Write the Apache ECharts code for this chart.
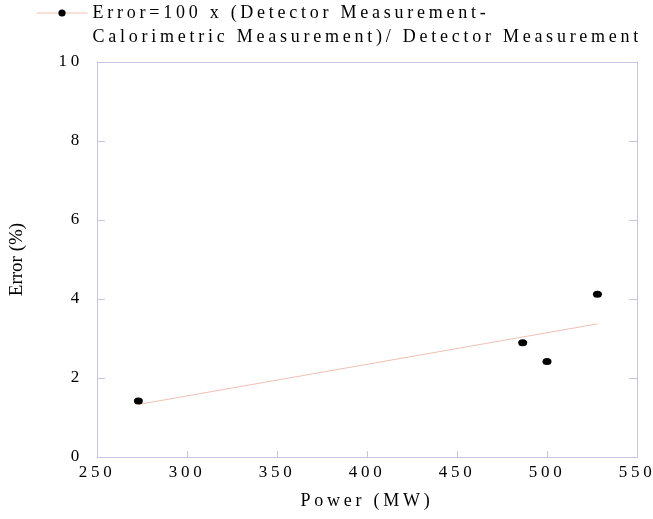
<!DOCTYPE html>
<html>
<head>
<meta charset="utf-8">
<script src="https://cdn.jsdelivr.net/npm/echarts@6/dist/echarts.min.js"></script>
<style>html,body{margin:0;padding:0;background:#fff}#c{width:653px;height:519px}</style>
</head>
<body>
<div id="c"></div>
<script>
// ---- data ----
const powerMW = [273, 486.5, 500, 528];
const errorPct = [1.42, 2.89, 2.42, 4.12];
const trendPower = [273, 528];
const trendError = [1.33, 3.37];
const xTickLabels = ['250', '300', '350', '400', '450', '500', '550'];
const yTickLabels = ['0', '2', '4', '6', '8', '10'];
const seriesName = 'Error=100 x (Detector Measurement-\nCalorimetric Measurement)/ Detector Measurement';
const xName = 'Power (MW)';
const yName = 'Error (%)';

// spaced-out lettering like the reference (all text except the 19px y-axis title)
(function(){
  const orig = CanvasRenderingContext2D.prototype.fillText;
  CanvasRenderingContext2D.prototype.fillText = function(t, x, y, w){
    try { this.letterSpacing = /\b19px/.test(this.font) ? '0px' : '3.75px'; } catch(e) {}
    return w === undefined ? orig.call(this, t, x, y) : orig.call(this, t, x, y, w);
  };
})();

const axisColor = '#c9c2e2';
const font = 'Liberation Serif';
const chart = echarts.init(document.getElementById('c'), null, {renderer: 'canvas'});
chart.setOption({
  animation: false,
  backgroundColor: '#fff',
  textStyle: {fontFamily: font, color: '#000'},
  grid: {left: 96, right: 16, top: 62, bottom: 62, containLabel: false},
  legend: {
    data: [seriesName],
    left: 36, top: -23, padding: 0,
    itemWidth: 51, itemHeight: 9, itemGap: 6,
    formatter: function(n){ return '\n' + n; },
    textStyle: {fontFamily: font, fontSize: 18, color: '#000', lineHeight: 24},
    lineStyle: {color: '#f0c0b6', width: 1, opacity: 1},
    itemStyle: {color: '#000'}
  },
  xAxis: [{
    type: 'value', min: 250, max: 550, interval: 50,
    axisLine: {show: true, onZero: false, lineStyle: {color: axisColor, width: 1}},
    axisTick: {show: true, inside: true, length: 6, lineStyle: {color: axisColor}},
    splitLine: {show: false},
    axisLabel: {fontFamily: font, fontSize: 17, color: '#000', margin: 7,
      formatter: function(v){ return xTickLabels[Math.round((v - 250) / 50)]; }},
    name: xName, nameLocation: 'middle', nameGap: 35,
    nameTextStyle: {fontFamily: font, fontSize: 18, color: '#000'}
  }, {
    type: 'value', min: 250, max: 550, interval: 50, position: 'top',
    axisLine: {show: true, onZero: false, lineStyle: {color: axisColor, width: 1}},
    axisTick: {show: false}, axisLabel: {show: false}, splitLine: {show: false}
  }],
  yAxis: [{
    type: 'value', min: 0, max: 10, interval: 2,
    axisLine: {show: true, onZero: false, lineStyle: {color: axisColor, width: 1}},
    axisTick: {show: true, inside: true, length: 8, lineStyle: {color: axisColor}},
    splitLine: {show: false},
    axisLabel: {fontFamily: font, fontSize: 17, color: '#000', margin: 14,
      formatter: function(v){ return yTickLabels[Math.round(v / 2)]; }},
    name: yName, nameLocation: 'middle', nameGap: 70,
    nameTextStyle: {fontFamily: font, fontSize: 19, color: '#000'}
  }, {
    type: 'value', min: 0, max: 10, interval: 2, position: 'right',
    axisLine: {show: true, onZero: false, lineStyle: {color: axisColor, width: 1}},
    axisTick: {show: true, inside: true, length: 8, lineStyle: {color: axisColor}},
    axisLabel: {show: false}, splitLine: {show: false}
  }],
  series: [{
    name: seriesName,
    type: 'line',
    data: powerMW.map((p, i) => [p, errorPct[i]]),
    symbol: 'circle', symbolSize: [9, 7],
    itemStyle: {color: '#000'},
    lineStyle: {opacity: 0},
    z: 3
  }, {
    name: 'trend',
    type: 'line',
    data: trendPower.map((p, i) => [p, trendError[i]]),
    symbol: 'none',
    lineStyle: {color: '#f0c0b6', width: 1},
    z: 2
  }]
});
</script>
</body>
</html>
